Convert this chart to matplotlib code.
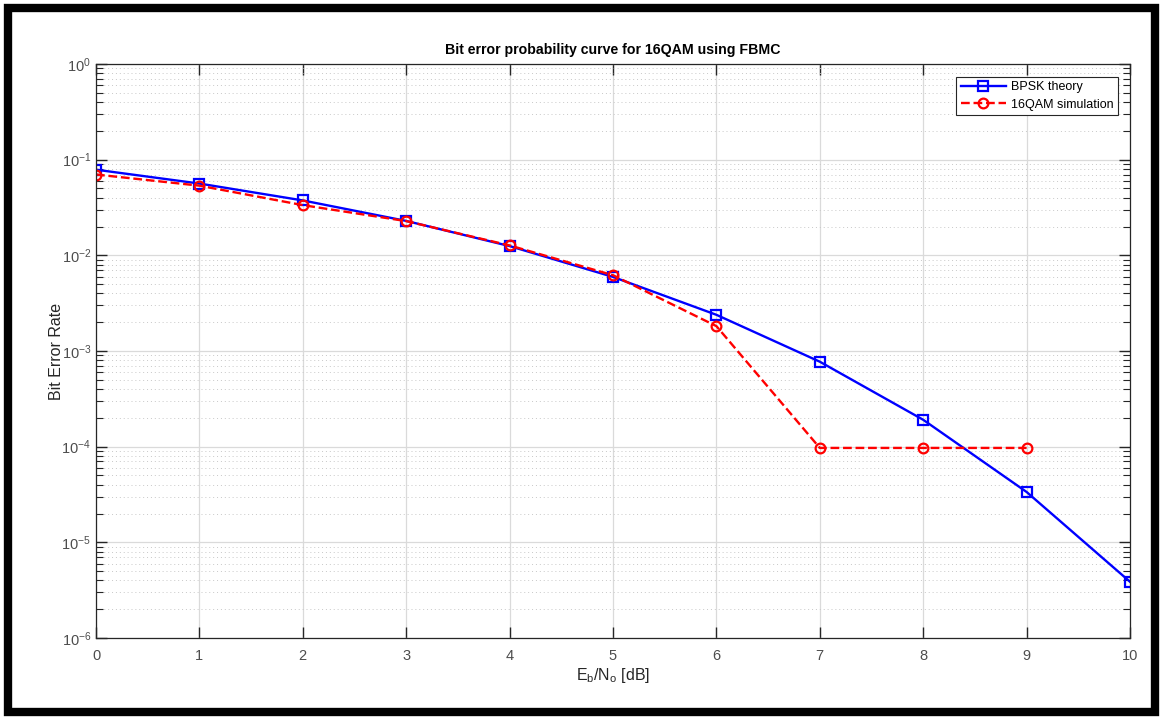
import matplotlib
matplotlib.use('Agg')
import matplotlib.pyplot as plt
from matplotlib.patches import Rectangle

plt.rcParams['font.family'] = ['Liberation Sans', 'DejaVu Sans']
plt.rcParams['mathtext.fontset'] = 'custom'
plt.rcParams['mathtext.rm'] = 'Liberation Sans'
plt.rcParams['mathtext.it'] = 'Liberation Sans'
plt.rcParams['mathtext.default'] = 'regular'
plt.rcParams['axes.unicode_minus'] = False

# Eb/N0 points in dB
ebno_db = [0, 1, 2, 3, 4, 5, 6, 7, 8, 9, 10]
ebno_sim_db = [0, 1, 2, 3, 4, 5, 6, 7, 8, 9]

# theoretical BPSK bit error rate
ber_theory = [0.0786, 0.0563, 0.0375, 0.0229, 0.0125, 0.00595,
              0.00239, 7.73e-4, 1.91e-4, 3.36e-5, 3.87e-6]

# simulated 16QAM bit error rate
ber_sim = [0.0700, 0.0535, 0.0335, 0.0228, 0.0127, 0.0062,
           0.00182, 9.7e-5, 9.7e-5, 9.7e-5]

fig = plt.figure(figsize=(11.61, 7.17), dpi=100)
ax = fig.add_axes([0.0827, 0.1102, 0.8906, 0.8005])

ax.semilogy(ebno_db, ber_theory, '-s', color='blue', lw=1.7, ms=6.5,
            mfc='none', mew=1.6, label='BPSK theory')
ax.semilogy(ebno_sim_db, ber_sim, '--o', color='red', lw=1.7, ms=7,
            mfc='none', mew=1.6, label='16QAM simulation')

ax.set_xlim(0, 10)
ax.set_ylim(1e-6, 1)
ax.set_xticks(range(0, 11))

# grid: solid major lines, dotted minor lines on the log axis
ax.grid(True, which='major', color='#dadada', lw=0.9, ls='-')
ax.grid(True, which='minor', axis='y', color='#c8c8c8', lw=0.7, ls=(0, (1, 3)))
ax.set_axisbelow(True)

ax.tick_params(which='both', direction='in', top=True, right=True,
               colors='#262626', labelcolor='#4d4d4d', labelsize=10.5)
ax.tick_params(which='major', length=8, width=1)
ax.tick_params(which='minor', length=5, width=0.8)
ax.tick_params(axis='x', pad=8)
for s in ax.spines.values():
    s.set_color('#262626')
    s.set_linewidth(0.9)

ax.set_title('Bit error probability curve for 16QAM using FBMC',
             fontsize=10.2, fontweight='bold', pad=7)
ax.set_xlabel(r'E$_b$/N$_o$ [dB]', fontsize=11.5, color='#262626', labelpad=2)
ax.set_ylabel('Bit Error Rate', fontsize=11.5, color='#262626', labelpad=-2)

leg = ax.legend(loc='upper right', fontsize=9, fancybox=False,
                edgecolor='#262626', framealpha=1, borderaxespad=1.0,
                handlelength=3.6, handletextpad=0.4, borderpad=0.35,
                labelspacing=0.45)
leg.get_frame().set_linewidth(0.8)

# black frame around the whole figure
fig.patches.append(Rectangle((0.0072, 0.0063), 0.9876, 0.9825,
                             transform=fig.transFigure, fill=False,
                             edgecolor='black', lw=6))

fig.savefig('out.png', dpi=100)
